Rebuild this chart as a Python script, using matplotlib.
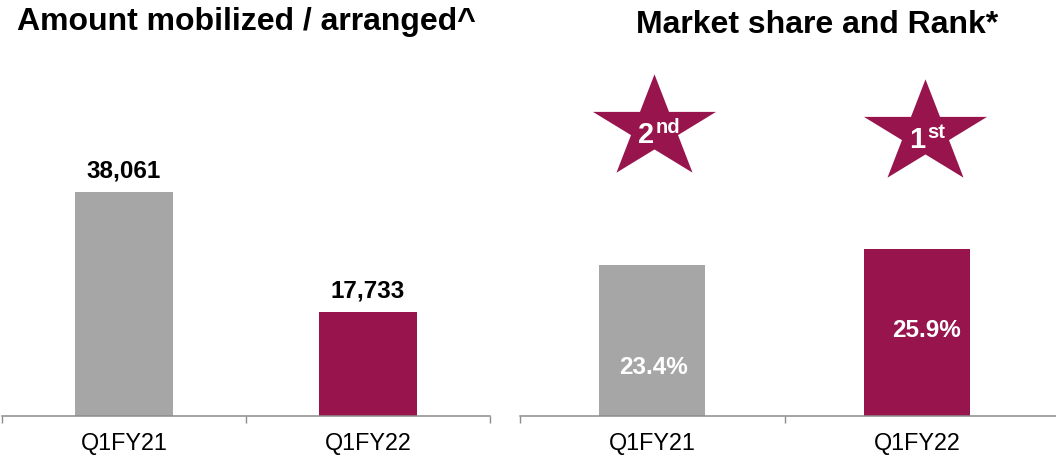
import numpy as np
import matplotlib
matplotlib.use('Agg')
import matplotlib.pyplot as plt
from matplotlib.path import Path
from matplotlib.transforms import blended_transform_factory

plt.rcParams['font.family'] = ['Liberation Sans', 'DejaVu Sans']

# data
quarters      = ['Q1FY21', 'Q1FY22']
amount        = [38061, 17733]
amount_labels = ['38,061', '17,733']
share         = [23.4, 25.9]
share_labels  = ['23.4%', '25.9%']
rank_num      = ['2', '1']
rank_suffix   = ['nd', 'st']

grey   = '#A6A6A6'
maroon = '#97144D'
bar_colors = [grey, maroon]
axis_grey  = '#8C8C8C'

W, H = 1056, 460
fig = plt.figure(figsize=(W/100, H/100), dpi=100)

def setup_axis(ax, xmax, bounds):
    x = np.arange(len(quarters))
    ax.set_xlim(-0.5, xmax)
    for s in ['left', 'right', 'top']:
        ax.spines[s].set_visible(False)
    ax.spines['bottom'].set_color(axis_grey)
    ax.spines['bottom'].set_linewidth(1.1)
    ax.set_yticks([])
    # boundary ticks between categories, labels at centres
    ax.set_xticks(bounds)
    ax.set_xticklabels([])
    ax.tick_params(axis='x', which='major', length=5, width=1.0,
                   color=axis_grey, direction='out')
    ax.set_xticks(x, minor=True)
    ax.set_xticklabels(quarters, minor=True, fontsize=16.8)
    ax.tick_params(axis='x', which='minor', length=0, pad=11)
    return x

bottom = 43 / H
height = 357 / H

# left panel: amount mobilized
ax1 = fig.add_axes([2/W, bottom, 488/W, height])
x = setup_axis(ax1, 1.5, [-0.5, 0.5, 1.5])
ax1.bar(x, amount, width=0.4, color=bar_colors)
ax1.set_ylim(0, 60660)
for xi, v, lab in zip(x, amount, amount_labels):
    ax1.annotate(lab, (xi, v), xytext=(0, 11), textcoords='offset points',
                 ha='center', va='baseline', fontsize=17.5, fontweight='bold')

# right panel: market share and rank
ax2 = fig.add_axes([520/W, bottom, 536/W, height])
x = setup_axis(ax2, 1.523, [-0.5, 0.5])
ax2.bar(x, share, width=0.4, color=bar_colors)
ax2.set_ylim(0, 55.35)

label_frac = [0.33, 0.52]
label_dx   = [1, 9]
for xi, v, lab, f, dx in zip(x, share, share_labels, label_frac, label_dx):
    ax2.annotate(lab, (xi, v * f), xytext=(dx * 0.72, 0), textcoords='offset points',
                 ha='center', va='center', color='white',
                 fontsize=17.5, fontweight='bold')

# five-point star, stretched sideways
ang_out = np.deg2rad(90 + 72 * np.arange(5))
ang_in  = ang_out + np.deg2rad(36)
verts = []
for a, b in zip(ang_out, ang_in):
    verts.append((np.cos(a), np.sin(a)))
    verts.append((0.382 * np.cos(b), 0.382 * np.sin(b)))
verts.append(verts[0])
verts = np.array(verts)
verts[:, 0] *= 1.19
verts[:, 1] -= 0.0955
star = Path(verts, [Path.MOVETO] + [Path.LINETO] * 9 + [Path.CLOSEPOLY])

trans = blended_transform_factory(ax2.transData, ax2.transAxes)
star_x = [0.004, 1.028]
star_y = [0.821, 0.807]
ax2.scatter(star_x, star_y, marker=star, s=88.6**2, color=maroon,
            linewidths=0, transform=trans, clip_on=False, zorder=3)
for sx, sy, num, suf in zip(star_x, star_y, rank_num, rank_suffix):
    ax2.annotate(num, (sx, sy), xycoords=trans, xytext=(0.3, -13.7),
                 textcoords='offset points', ha='right', va='baseline',
                 color='white', fontsize=21, fontweight='bold', zorder=4)
    ax2.annotate(suf, (sx, sy), xycoords=trans, xytext=(1.6, -6.5),
                 textcoords='offset points', ha='left', va='baseline',
                 color='white', fontsize=14.5, fontweight='bold', zorder=4)

# panel titles
fig.text(246/W, 1 - 30/H, 'Amount mobilized / arranged^', ha='center',
         va='baseline', fontsize=23, fontweight='bold')
fig.text(817/W, 1 - 33/H, 'Market share and Rank*', ha='center',
         va='baseline', fontsize=23, fontweight='bold')

fig.savefig('out.png', dpi=100)
